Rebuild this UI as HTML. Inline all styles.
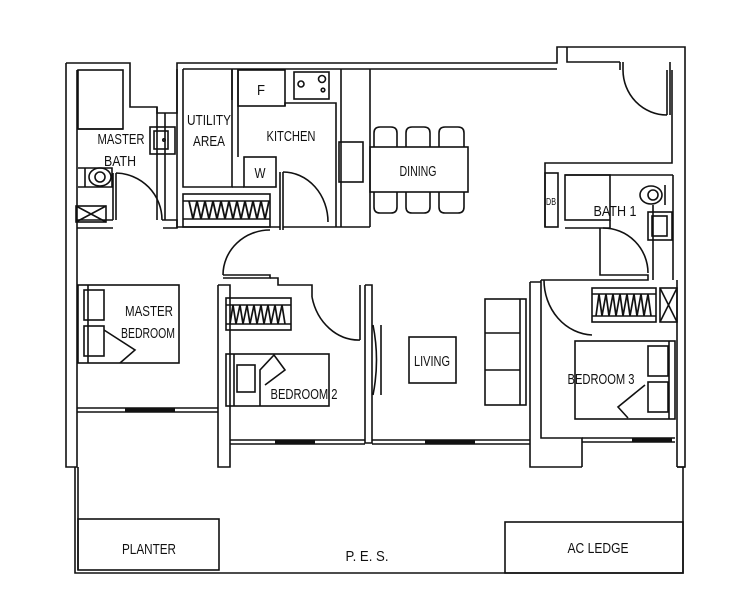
<!DOCTYPE html>
<html><head><meta charset="utf-8"><style>
html,body{margin:0;padding:0;background:#fff;}
svg{display:block;}
text{font-family:"Liberation Sans",sans-serif;font-size:15px;fill:#111;text-anchor:middle;}
</style></head><body>
<svg width="741" height="600" viewBox="0 0 741 600" xmlns="http://www.w3.org/2000/svg">
<g fill="none" stroke="#111" stroke-width="1.6">
<path d="M66 63 H130 V107 H157 V113 M66 63 V467 H77 V228 M77 70 V228"/>
<rect x="78" y="70" width="45" height="59"/>
<path d="M78 129 H123"/>
<path d="M157 107 V113 H177 V63 H557 V47 H685 V467 H677"/>
<path d="M183 69 H557 M567 47 V62 H620 M672 70 V163 H545 V227"/>
<path d="M157 113 V220 M165 113 V220 M77 220 H113 M77 228 H113 M162 220 H177 V228 H163"/>
<path d="M177 69 V228 M183 69 V187 H232 V69"/>
<rect x="150" y="127" width="25" height="27"/><rect x="154" y="131" width="14" height="18"/>
<circle cx="164" cy="140" r="1.2"/>
<path d="M78 168 H112 V187 H78"/><ellipse cx="100" cy="177" rx="11" ry="9"/><ellipse cx="100" cy="177" rx="5" ry="5"/><path d="M85 168 V187"/>
<rect x="76" y="206" width="30" height="16"/><path d="M76 206 L106 222 M106 206 L76 222"/>
<path d="M113 173 V220 M116 173 V220"/><path d="M116 173 A47 47 0 0 1 162 220"/>
<rect x="183" y="194" width="87" height="33"/><path d="M183 201 H270 M183 219 H270"/>
<path d="M189 201 L193 219 L197 201 L201 219 L205 201 L209 219 L213 201 L217 219 L221 201 L225 219 L229 201 L233 219 L237 201 L241 219 L245 201 L249 219 L253 201 L257 219 L261 201 L265 219 L269 201" stroke-width="1.8"/>
<path d="M232 69 V100 M238 69 V100 M232 187 H244 M238 100 V157"/>
<rect x="238" y="70" width="47" height="36"/>
<rect x="294" y="72" width="35" height="27"/><circle cx="301" cy="84" r="3"/><circle cx="322" cy="79" r="3.5"/><circle cx="323" cy="90" r="1.8"/>
<rect x="244" y="157" width="32" height="30"/>
<path d="M285 106 V103 H336 V227 M341 227 V69 M370 69 V227 M336 227 H370"/>
<rect x="339" y="142" width="24" height="40"/>
<path d="M280 172 V230 M283 172 V230 M177 227 H280 M283 227 H336"/>
<path d="M283 172 A45 50 0 0 1 328 222"/>
<path d="M270 230 A47 45 0 0 0 223 275"/><path d="M223 275 H270 V278 H223"/>
<path d="M270 278 H278 V285 H312 V297"/>
<rect x="370" y="147" width="98" height="45"/>
<path d="M374 147 V133 Q374 127 380 127 H391 Q397 127 397 133 V147 M406 147 V133 Q406 127 412 127 H424 Q430 127 430 133 V147 M439 147 V133 Q439 127 445 127 H458 Q464 127 464 133 V147"/>
<path d="M374 192 V207 Q374 213 380 213 H391 Q397 213 397 207 V192 M406 192 V207 Q406 213 412 213 H424 Q430 213 430 207 V192 M439 192 V207 Q439 213 445 213 H458 Q464 213 464 207 V192"/>
<path d="M620 62 V70 M623 62 V70 M623 70 A44 45 0 0 0 667 115 M667 70 V115 M670 62 V115"/>
<rect x="545" y="173" width="13" height="54"/>
<rect x="565" y="175" width="45" height="45"/>
<path d="M565 175 H673 M610 220 V228 H565 M673 175 V280 M653 205 V280 M600 228 V275 H648 V280 H600"/>
<ellipse cx="651" cy="195" rx="11" ry="9"/><ellipse cx="653" cy="195" rx="5" ry="5"/><path d="M665 185 V205"/>
<rect x="648" y="212" width="24" height="28"/><rect x="652" y="216" width="15" height="20"/>
<path d="M603 228 A45 45 0 0 1 648 273"/>
<path d="M677 280 V467 M685 467 H677 M541 280 H600 M541 280 V438 H582 V467 M530 282 V467 H582 M530 282 H541"/>
<rect x="78" y="285" width="101" height="78"/>
<path d="M88 285 V363"/>
<rect x="84" y="290" width="20" height="30"/><rect x="84" y="326" width="20" height="30"/>
<path d="M104 330 L135 350 L120 363"/>
<path d="M77 408 H218 M77 412 H218"/><path d="M125 410 H175" stroke-width="3"/>
<path d="M218 285 V467 H230 V285 H218"/>
<rect x="226" y="298" width="65" height="32"/>
<path d="M226 305 H291 M226 324 H291"/>
<path d="M230 324 L233 305 L236 324 L240 305 L243 324 L247 305 L250 324 L254 305 L257 324 L261 305 L264 324 L268 305 L271 324 L275 305 L278 324 L282 305 L285 324" stroke-width="1.7"/>
<rect x="226" y="354" width="103" height="52"/><path d="M234 354 V406"/>
<rect x="237" y="365" width="18" height="27"/>
<path d="M260 406 V370 L274 355 L285 370 L265 385"/>
<path d="M312 297 A48 55 0 0 0 360 340 M360 285 V340 M365 285 V443 H372 V285 H365"/>
<path d="M230 440 H365 M230 444 H365 M372 440 H530 M372 444 H530"/>
<path d="M275 442 H315 M425 442 H475" stroke-width="3"/>
<path d="M373 325 Q380 360 373 395 M381 325 V395"/>
<rect x="409" y="337" width="47" height="46"/>
<rect x="485" y="299" width="41" height="106"/><path d="M520 299 V405 M485 333 H520 M485 370 H520"/>
<rect x="592" y="288" width="64" height="34"/><path d="M592 294 H656 M592 316 H656"/>
<path d="M596 316 L599 294 L602 316 L606 294 L609 316 L613 294 L616 316 L620 294 L623 316 L627 294 L630 316 L634 294 L637 316 L641 294 L644 316 L648 294 L651 316" stroke-width="1.7"/>
<rect x="660" y="288" width="17" height="34"/><path d="M660 288 L677 322 M677 288 L660 322"/>
<path d="M544 280 A50 55 0 0 0 592 335"/>
<rect x="575" y="341" width="100" height="78"/><path d="M669 341 V419"/>
<rect x="648" y="346" width="20" height="30"/><rect x="648" y="382" width="20" height="30"/>
<path d="M645 385 L618 407 L628 418"/>
<path d="M582 438 H675 M582 442 H675"/><path d="M632 440 H672" stroke-width="3"/>
<path d="M75 467 V573 H683 V467 M78 467 V570"/>
<rect x="78" y="519" width="141" height="51"/>
<rect x="505" y="522" width="178" height="51"/>
</g>
<g>
<text x="121" y="144" textLength="47" lengthAdjust="spacingAndGlyphs">MASTER</text>
<text x="120" y="166" textLength="32" lengthAdjust="spacingAndGlyphs">BATH</text>
<text x="209" y="125" textLength="44" lengthAdjust="spacingAndGlyphs">UTILITY</text>
<text x="209" y="146" textLength="32" lengthAdjust="spacingAndGlyphs">AREA</text>
<text x="291" y="141" textLength="49" lengthAdjust="spacingAndGlyphs">KITCHEN</text>
<text x="261" y="95" textLength="8" lengthAdjust="spacingAndGlyphs">F</text>
<text x="260" y="178" textLength="11" lengthAdjust="spacingAndGlyphs">W</text>
<text x="418" y="176" textLength="37" lengthAdjust="spacingAndGlyphs">DINING</text>
<text x="615" y="216" textLength="43" lengthAdjust="spacingAndGlyphs">BATH 1</text>
<text x="551" y="205" style="font-size:10px" textLength="10" lengthAdjust="spacingAndGlyphs">DB</text>
<text x="149" y="316" textLength="48" lengthAdjust="spacingAndGlyphs">MASTER</text>
<text x="148" y="338" textLength="54" lengthAdjust="spacingAndGlyphs">BEDROOM</text>
<text x="304" y="399" textLength="67" lengthAdjust="spacingAndGlyphs">BEDROOM 2</text>
<text x="432" y="366" textLength="36" lengthAdjust="spacingAndGlyphs">LIVING</text>
<text x="601" y="384" textLength="67" lengthAdjust="spacingAndGlyphs">BEDROOM 3</text>
<text x="149" y="554" textLength="54" lengthAdjust="spacingAndGlyphs">PLANTER</text>
<text x="367" y="561" textLength="43" lengthAdjust="spacingAndGlyphs">P. E. S.</text>
<text x="598" y="553" textLength="61" lengthAdjust="spacingAndGlyphs">AC LEDGE</text>
</g>
</svg>
</body></html>
